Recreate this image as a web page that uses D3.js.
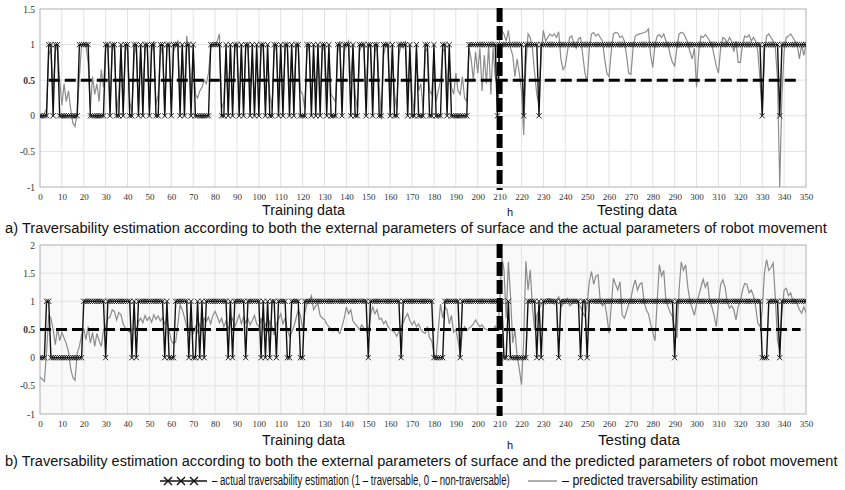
<!DOCTYPE html>
<html><head><meta charset="utf-8">
<script src="https://cdn.jsdelivr.net/npm/d3@7"></script>
<style>body{margin:0;background:#fff}svg{display:block}</style>
</head><body>
<script>
// ---------- DATA ----------
const xTicks = d3.range(0, 351, 10);
const yTicksTop = [-1, -0.5, 0, 0.5, 1, 1.5];
const yTicksBot = [-1, -0.5, 0, 0.5, 1, 1.5, 2];
const splitX = 210;          // "h" – end of training data
const threshold = 0.5;

// panel a) actual traversability (0/1), x = 0..350
const actualA = [
0,0,0,0,1,1,0,1,1,0, 0,0,0,0,0,0,0,0,1,1, 1,1,1,0,0,0,0,0,0,0, 1,1,0,1,1,0,0,1,0,1,
1,0,0,1,1,0,1,0,1,1, 0,1,1,0,0,1,1,0,1,1, 0,1,1,1,0,1,0,1,1,0, 1,0,0,0,0,0,0,0,1,1,
1,1,1,0,0,1,0,1,0,1, 1,0,1,0,1,1,0,1,0,1, 0,1,1,0,1,0,0,1,1,0, 1,0,1,1,0,1,0,1,1,0,
0,0,1,1,0,1,0,1,0,1, 1,0,1,0,0,0,1,1,0,1, 1,1,0,1,0,0,1,1,1,0, 1,1,0,1,1,0,0,1,1,1,
0,1,0,0,1,1,1,1,0,1, 0,0,1,0,0,0,1,1,0,0, 1,0,0,0,1,1,0,1,0,0, 0,0,0,0,0,0,1,1,1,1,
1,1,1,1,1,1,1,1,1,0, 1,1,1,1,1,1,1,1,1,1, 1,0,1,1,1,1,1,1,0,1, 1,1,1,1,1,1,1,1,1,1,
1,1,1,1,1,1,1,1,1,1, 1,1,1,1,1,1,1,1,1,1, 1,1,1,1,1,1,1,1,1,1, 1,1,1,1,1,1,1,1,1,1,
1,1,1,1,1,1,1,1,1,1, 1,1,1,1,1,1,1,1,1,1, 1,1,1,1,1,1,1,1,1,1, 1,1,1,1,1,1,1,1,1,1,
1,1,1,1,1,1,1,1,1,1,
0,1,1,1,1,1,1,1,0,1, 1,1,1,1,1,1,1,1,1,1,1];

// panel a) predicted traversability
const predictedA = [
0.02,-0.02,0.03,0.1,0.85,0.95,0.3,0.9,1.0,0.5,
0.15,0.45,0.2,0.35,0.1,-0.1,-0.15,0.05,0.55,1.0,
1.02,0.98,0.75,0.1,0.55,0.3,0.45,0.2,0.65,0.4,
0.95,1.0,0.1,0.9,1.02,0.05,0.3,0.95,0.1,0.9,
1.0,0.2,0.05,0.85,1.0,0.1,0.9,0.3,0.95,1.0,
0.1,0.9,1.05,0.15,0.3,0.85,1.0,0.05,0.95,1.0,
0.15,0.9,1.0,1.05,0.2,0.95,0.3,1.12,0.9,0.25,
0.9,0.3,0.25,0.35,0.4,0.5,0.45,0.6,0.95,1.0,
1.0,1.05,1.15,0.1,0.2,0.9,0.1,0.95,0.15,0.95,
1.0,0.2,0.9,0.1,0.95,1.0,0.3,0.85,0.1,0.9,
0.15,0.95,1.0,0.2,0.85,0.3,0.1,0.9,1.0,0.25,
0.9,0.1,0.95,1.0,0.3,0.9,0.2,0.95,1.0,0.35,
0.3,0.1,0.9,1.0,0.15,0.85,0.3,0.95,0.2,0.9,
1.0,0.35,0.9,0.3,0.25,0.2,0.9,1.05,0.25,0.9,
1.0,1.05,0.45,0.95,0.3,0.1,0.9,1.0,0.95,0.3,
0.95,1.0,0.35,0.9,1.0,0.4,-0.05,0.85,1.0,0.95,
0.2,0.9,0.3,0.1,0.85,1.0,0.95,1.05,0.3,0.9,
0.3,0.05,0.9,0.35,0.45,0.1,0.9,0.95,0.35,0.3,
0.85,0.2,0.35,0.5,0.9,0.95,0.3,0.85,0.4,0.3,
0.6,0.35,0.3,0.55,0.25,0.2,0.95,0.8,0.5,0.9,
0.6,0.95,0.35,0.85,0.45,1.0,0.3,0.95,0.55,0.4,
1.1,1.2,1.15,1.05,1.2,0.95,0.85,0.55,0.8,0.6,
0.35,-0.27,0.7,1.15,1.1,0.95,0.6,0.3,0.15,0.9,
1.2,1.05,1.1,1.15,1.12,1.15,1.1,1.18,0.8,0.65,
0.7,0.9,1.1,1.12,1.0,0.95,1.08,1.1,0.85,0.6,
0.48,0.95,1.15,1.17,1.12,1.15,1.1,1.05,0.8,0.6,
0.55,0.9,1.15,1.17,1.16,1.1,1.12,1.05,0.85,0.6,
0.58,0.95,1.12,1.14,1.15,1.16,1.17,1.18,1.22,0.85,
0.68,1.0,1.12,1.14,1.1,1.15,1.05,1.0,0.85,0.75,
0.7,0.95,1.15,1.17,1.16,1.1,1.02,0.9,0.8,0.95,
0.4,0.9,1.12,1.1,1.14,1.1,1.05,1.0,0.85,0.7,
0.6,0.95,1.1,1.08,1.02,1.1,1.05,0.9,1.05,0.75,
0.75,1.0,1.12,1.1,1.14,1.05,1.1,1.05,0.9,0.5,
0.0,0.9,1.12,1.15,1.1,1.05,0.95,0.5,-1.0,0.3,
0.9,1.1,1.12,1.15,1.1,1.05,1.0,0.8,1.0,0.85,1.0];

// panel b) actual traversability
const actualB = [
0,0,0,1,1,0,0,0,0,0, 0,0,0,0,0,0,0,0,0,0, 1,1,1,1,1,1,1,1,1,1, 0,1,1,1,1,1,1,1,1,1,
1,1,0,1,0,1,1,1,1,1, 1,1,1,1,1,1,1,0,1,0, 0,0,1,1,1,1,1,1,0,1, 0,0,1,0,1,0,1,1,1,1,
1,1,1,1,1,1,0,1,0,1, 1,1,1,1,0,1,1,1,1,1, 1,0,1,0,1,0,1,1,0,1, 1,1,1,0,0,1,1,1,1,0,
0,1,1,1,1,1,1,1,1,1, 1,1,1,1,1,1,1,1,1,1, 1,1,1,1,1,1,1,1,1,1, 0,1,1,1,1,1,1,1,1,1,
1,1,1,1,1,0,1,1,1,1, 1,1,1,1,1,1,1,1,1,1, 0,0,0,0,0,1,1,1,1,1, 1,1,0,1,1,1,1,1,1,1,
1,1,1,1,1,1,1,1,1,1, 1,1,0,0,1,0,0,0,0,0, 0,0,0,1,1,1,1,0,1,0, 1,1,1,1,1,1,1,0,1,1,
1,1,1,1,1,1,1,0,1,1, 0,1,1,1,1,1,1,1,1,1, 1,1,1,1,1,1,1,1,1,1, 1,1,1,1,1,1,1,1,1,1,
1,1,1,1,1,1,1,1,1,1, 0,1,1,1,1,1,1,1,1,1, 1,1,1,1,1,1,1,1,1,1, 1,1,1,1,1,1,1,1,1,1,
1,1,1,1,1,1,1,1,1,1, 0,0,0,1,1,1,1,1,0,1, 1,1,1,1,1,1,1,1,1,1,1];

// panel b) predicted traversability
const predictedB = [
-0.34,-0.38,-0.42,0.1,0.75,0.7,0.5,0.23,0.52,0.3,
0.45,0.35,0.25,0.11,-0.19,-0.35,-0.4,0.08,0.2,0.4,
0.52,0.32,0.55,0.26,0.45,0.2,0.43,0.3,0.2,0.49,
0.55,0.7,0.72,0.85,0.82,0.67,0.8,0.76,0.6,0.52,
0.49,0.45,0.5,0.52,0.48,0.64,0.7,0.62,0.75,0.66,
0.72,0.63,0.76,0.68,0.74,0.65,0.71,0.6,0.7,0.48,
0.3,0.25,0.28,0.6,0.94,0.85,0.72,0.55,0.45,0.6,
0.42,0.55,0.45,0.6,0.5,0.7,0.65,0.72,0.6,0.75,
0.82,0.73,0.62,0.7,0.55,0.65,0.5,0.6,0.7,0.55,
0.65,0.76,0.6,0.72,0.62,0.7,0.58,0.66,0.75,0.6,
0.55,0.7,0.5,0.6,0.45,0.65,0.55,0.4,0.6,0.68,
0.78,0.6,0.7,0.5,0.38,0.45,0.55,0.7,0.85,0.75,
0.5,0.8,0.95,1.0,1.1,0.85,0.92,0.95,0.75,0.7,
0.68,0.6,0.55,0.5,0.47,0.52,0.48,0.43,0.55,0.7,
0.9,0.78,0.85,0.65,0.6,0.55,0.5,0.58,0.52,0.48,
0.44,0.75,0.9,0.78,0.85,0.68,0.7,0.6,0.65,0.55,
0.5,0.48,0.45,0.38,0.46,0.55,0.62,0.72,0.78,0.66,
0.58,0.65,0.55,0.6,0.5,0.45,0.43,0.55,0.35,0.3,
0.05,0.0,0.5,0.95,0.7,0.9,0.85,0.6,0.75,0.45,
0.5,0.3,0.05,0.45,0.55,0.48,0.52,0.55,0.6,0.67,
0.6,0.55,0.58,0.52,0.5,0.48,0.52,0.5,0.56,0.5,
0.9,1.79,1.56,0.7,1.7,1.08,0.26,0.5,0.02,-0.2,
-0.48,0.3,1.71,1.2,1.56,0.9,0.49,0.75,0.85,0.95,
1.0,0.95,1.05,1.05,0.98,0.95,1.02,1.08,0.9,0.95,
0.99,1.05,0.92,0.95,1.0,1.02,0.95,0.9,0.8,0.73,
0.95,1.35,1.53,1.3,1.45,1.47,1.0,0.92,0.98,0.75,
0.43,0.9,1.41,1.3,1.2,1.35,0.76,0.7,0.82,0.95,
1.05,1.25,1.38,1.2,1.3,1.33,1.0,0.85,0.78,0.6,
0.45,0.3,1.0,1.65,1.45,1.55,1.0,0.9,0.8,0.73,
0.5,0.35,1.2,1.7,1.55,1.65,1.25,1.0,0.88,0.75,
0.95,1.1,1.25,1.39,1.25,1.35,1.0,0.9,0.75,0.55,
0.95,1.3,1.38,1.25,1.0,0.88,0.92,0.85,0.67,0.9,
1.0,1.2,1.32,1.3,1.15,1.2,1.1,0.9,0.61,0.55,
0.85,1.5,1.74,1.55,1.6,1.68,1.05,0.3,0.14,0.8,
1.2,1.23,1.1,1.15,1.0,1.03,0.95,0.85,0.79,0.9,0.8];

const captionA = "a) Traversability estimation according to both the external parameters of surface and the actual parameters of robot movement";
const captionB = "b) Traversability estimation according to both the external parameters of surface and the predicted parameters of robot movement";
const legendActual = "– actual traversability estimation (1 – traversable, 0 – non-traversable)";
const legendPred = "– predicted traversability estimation";

// ---------- DRAW ----------
const W = 845, H = 490;
const svg = d3.select("body").append("svg").attr("width", W).attr("height", H);
const narrow = "'Liberation Sans Narrow','Arial Narrow','Liberation Sans',Arial,sans-serif";
const serif = "'Liberation Serif','Times New Roman',serif";

const x = d3.scaleLinear().domain([0, 350]).range([40, 806]);

function panel(id, y, yTicks, actual, predicted, bg, dashStart, vTop, vBot) {
  const g = svg.append("g");
  const [y0, y1] = y.range();
  g.append("rect").attr("x", x(0)).attr("y", y1).attr("width", x(350) - x(0)).attr("height", y0 - y1)
    .attr("fill", bg);
  g.append("g").selectAll("line").data(xTicks.slice(1, -1)).join("line")
    .attr("x1", d => x(d)).attr("x2", d => x(d)).attr("y1", y1).attr("y2", y0)
    .attr("stroke", "#e2e2e2").attr("stroke-width", 1);
  g.append("g").selectAll("line").data(yTicks.slice(1, -1)).join("line")
    .attr("x1", x(0)).attr("x2", x(350)).attr("y1", d => y(d)).attr("y2", d => y(d))
    .attr("stroke", "#e2e2e2").attr("stroke-width", 1);
  g.append("rect").attr("x", x(0)).attr("y", y1).attr("width", x(350) - x(0)).attr("height", y0 - y1)
    .attr("fill", "none").attr("stroke", "#b0b0b0").attr("stroke-width", 1);

  const ax = g.append("g").attr("transform", `translate(0,${y0 + 10})`)
    .call(d3.axisBottom(x).tickValues(xTicks).tickSize(0).tickFormat(d => String(d)));
  ax.select(".domain").remove();
  ax.selectAll("text").attr("font-family", serif).attr("font-size", 9).attr("fill", "#333").attr("dy", "0.32em").attr("y", 0);
  const ay = g.append("g").attr("transform", `translate(${x(0) - 5},0)`)
    .call(d3.axisLeft(y).tickValues(yTicks).tickSize(0).tickFormat(d => String(d)));
  ay.select(".domain").remove();
  ay.selectAll("text").attr("font-family", serif).attr("font-size", 9.5).attr("fill", "#333").attr("x", 0)
    .attr("font-weight", d => d === 0.5 ? "bold" : "normal");

  svg.append("clipPath").attr("id", "clip" + id).append("rect")
    .attr("x", x(0)).attr("y", y1).attr("width", x(350) - x(0)).attr("height", y0 - y1);
  const pg = g.append("g").attr("clip-path", `url(#clip${id})`);

  const line = d3.line().x((d, i) => x(i)).y(d => y(d));
  pg.append("path").datum(predicted).attr("d", line)
    .attr("fill", "none").attr("stroke", "#8c8c8c").attr("stroke-width", 1.2);
  pg.append("path").datum(actual).attr("d", line)
    .attr("fill", "none").attr("stroke", "#111").attr("stroke-width", 1.4);
  const s = 2.6;
  pg.append("g").selectAll("path").data(actual).join("path")
    .attr("d", (d, i) => {
      const cx = x(i), cy = y(d);
      return `M${cx - s},${cy - s}L${cx + s},${cy + s}M${cx - s},${cy + s}L${cx + s},${cy - s}`;
    })
    .attr("stroke", "#222").attr("stroke-width", 1).attr("fill", "none");

  g.append("line").attr("x1", x(dashStart)).attr("x2", x(347.5)).attr("y1", y(threshold)).attr("y2", y(threshold))
    .attr("stroke", "#000").attr("stroke-width", 3).attr("stroke-dasharray", "11,5");
  g.append("line").attr("x1", x(splitX)).attr("x2", x(splitX)).attr("y1", vTop).attr("y2", vBot)
    .attr("stroke", "#000").attr("stroke-width", 6).attr("stroke-dasharray", "14,4");
}

const yA = d3.scaleLinear().domain([-1, 1.5]).range([187, 9]);
const yB = d3.scaleLinear().domain([-1, 2]).range([414, 245]);
panel("a", yA, yTicksTop, actualA, predictedA, "#ffffff", 4, 8, 190);
panel("b", yB, yTicksBot, actualB, predictedB, "#f9f9f9", 0, 244, 416);

// text squeezed horizontally to a target width (narrow-font look)
function txt(s, xx, yy, size, len, anchor) {
  const g = svg.append("g");
  const t = g.append("text").attr("x", 0).attr("y", 0).attr("font-family", narrow)
    .attr("font-size", size).attr("fill", "#111").attr("dominant-baseline", "middle").text(s);
  if (len) {
    const w = t.node().getComputedTextLength();
    const sx = len / w;
    g.attr("transform", `translate(${xx},${yy}) scale(${sx},1)`);
  } else {
    if (anchor) t.attr("text-anchor", anchor);
    g.attr("transform", `translate(${xx},${yy})`);
  }
  return t;
}
txt("Training data", 262, 211, 15, 83);
txt("h", 510, 213, 11, null, "middle");
txt("Testing data", 597, 211, 15, 80);
txt(captionA, 5, 229, 15.5, 822);
txt("Training data", 262, 441, 15, 83);
txt("h", 510, 446, 11, null, "middle");
txt("Testing data", 598, 441, 15, 82);
txt(captionB, 5, 462, 15.5, 833);

// legend
const ly = 481;
svg.append("line").attr("x1", 160).attr("x2", 207).attr("y1", ly).attr("y2", ly).attr("stroke", "#111").attr("stroke-width", 1.4);
svg.append("g").selectAll("path").data([168, 181, 194]).join("path")
  .attr("d", d => `M${d - 4},${ly - 4}L${d + 4},${ly + 4}M${d - 4},${ly + 4}L${d + 4},${ly - 4}`)
  .attr("stroke", "#111").attr("stroke-width", 1.4);
txt(legendActual, 212, ly, 15, 298);
svg.append("line").attr("x1", 528).attr("x2", 557).attr("y1", ly).attr("y2", ly).attr("stroke", "#8c8c8c").attr("stroke-width", 1.4);
txt(legendPred, 562, ly, 15, 196);
</script>
</body></html>
